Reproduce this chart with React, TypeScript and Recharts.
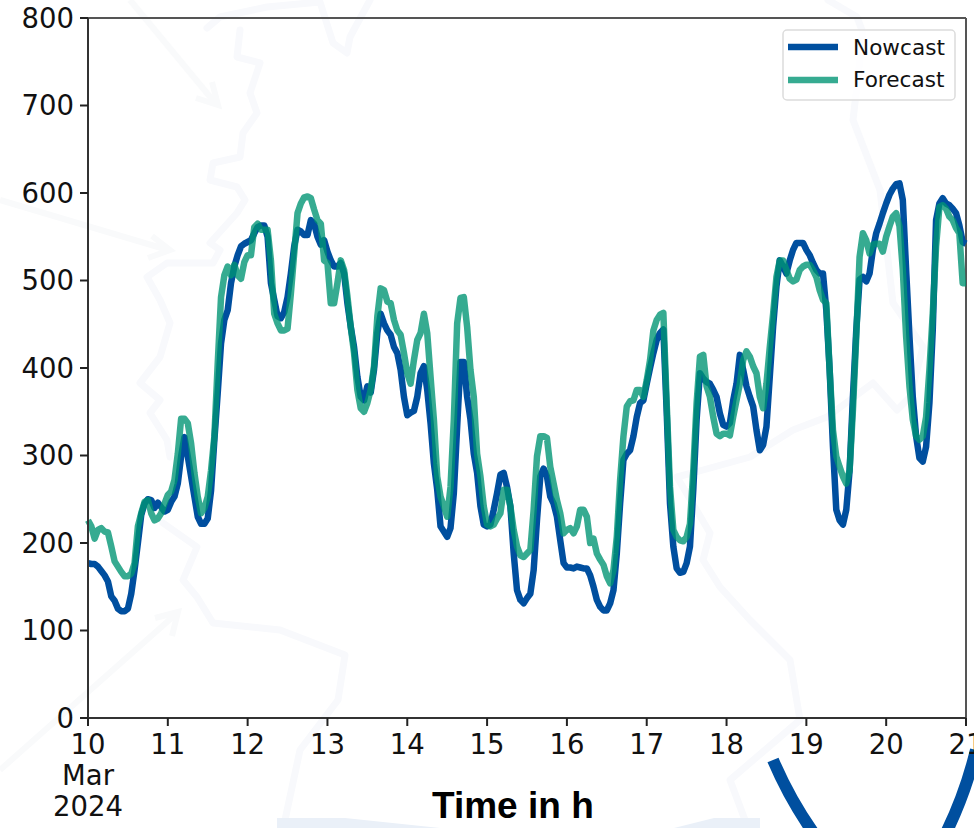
import React from "react";
import { LineChart, Line, XAxis, YAxis, ReferenceLine } from "recharts";

const nowcast = [
177,176,176,173,168,163,156,139,134,125,122,122,125,142,169,200,232,245,250,249,240,246,241,236,238,247,253,268,299,321,299,276,253,230,222,222,228,260,318,371,428,455,466,497,516,529,539,542,544,546,554,561,563,563,550,497,478,459,457,464,481,508,539,558,556,552,552,569,565,550,541,546,533,523,516,516,520,508,474,447,424,390,367,363,379,
372,398,440,462,451,443,438,424,417,398,367,346,349,351,367,394,402,375,337,291,261,219,213,207,217,257,333,407,407,367,341,302,280,242,221,219,221,238,257,278,280,264,242,188,146,135,131,137,142,169,226,276,285,276,253,245,230,203,177,172,172,171,173,172,171,171,163,150,135,127,123,123,131,146,188,245,295,302,306,322,344,360,363,382,400,417,432,440,444,
350,245,196,171,166,167,177,196,261,341,394,388,384,382,375,367,348,335,333,337,363,382,415,398,379,367,356,329,306,312,333,390,447,493,523,516,508,523,535,543,543,543,535,529,520,512,508,508,466,398,310,238,226,221,238,283,367,443,501,504,499,508,535,554,565,577,588,598,605,610,611,592,512,436,367,322,297,293,310,360,443,569,588,594,588,586,582,577,563,544,542,
];
const forecast = [
226,219,205,215,217,213,212,196,179,173,167,162,162,165,177,219,234,247,249,234,226,228,234,245,255,259,272,302,342,342,337,314,280,253,234,240,253,283,322,405,481,506,516,506,518,506,502,521,529,529,561,565,558,558,558,523,462,451,443,443,445,485,531,577,588,595,596,594,581,569,565,523,520,474,474,497,523,512,482,447,417,375,354,350,360,
375,402,459,491,489,476,474,455,443,438,417,394,382,409,432,440,462,440,390,341,276,253,242,230,264,341,451,480,481,447,398,367,302,276,242,221,219,221,228,234,261,261,242,215,196,186,184,188,192,238,299,322,322,320,287,268,249,234,211,215,217,211,219,238,238,230,200,205,188,181,175,162,154,169,207,272,322,356,362,363,375,375,367,386,409,443,455,461,463,
360,264,215,207,203,202,207,222,283,360,413,415,379,367,344,325,322,325,325,323,344,363,382,409,419,413,402,394,367,354,382,424,462,504,523,523,512,502,499,501,512,516,518,518,512,504,489,478,474,398,329,299,287,276,268,283,352,436,527,554,546,531,541,542,542,533,550,562,573,577,562,512,436,379,341,322,318,322,344,398,462,539,584,586,582,573,569,560,554,497,497,
];
const dayLabels = ["10","11","12","13","14","15","16","17","18","19","20","21"];
const yTicks = [0,100,200,300,400,500,600,700,800];
const hoursPerDay = 24;
const rows = nowcast.map((n, i) => ({ hour: i, nowcast: n, forecast: forecast[i] }));
const xTicks = dayLabels.map((_, i) => i * hoursPerDay);

const BLUE = "#004f9f";
const GREEN = "#009574";
const FONT = "'DejaVu Sans', sans-serif";
const WM = "#f8f9fc";

const DayTick = (props: any) => {
  const { x, y, payload } = props;
  const idx = Math.round(payload.value / hoursPerDay);
  return (
    <g fontFamily={FONT} fontSize={27.5} fill="#111" textAnchor="middle">
      <text x={x} y={y + 26}>{dayLabels[idx]}</text>
      {idx === 0 && <text x={x} y={y + 57}>Mar</text>}
      {idx === 0 && <text x={x} y={y + 88}>2024</text>}
    </g>
  );
};

const LegendBox = () => (
  <svg width={174} height={72} style={{ display: "block" }}>
    <rect x={1} y={1} width={172} height={70} rx={4} fill="#fff" fillOpacity={0.8} stroke="#dcdcdc" strokeWidth={1.5} />
    <line x1={6} x2={56} y1={18} y2={18} stroke={BLUE} strokeWidth={6.5} />
    <line x1={6} x2={56} y1={51} y2={51} stroke={GREEN} strokeOpacity={0.79} strokeWidth={6.5} />
    <text x={71} y={26} fontFamily={FONT} fontSize={21.6} fill="#111">Nowcast</text>
    <text x={71} y={58} fontFamily={FONT} fontSize={21.6} fill="#111">Forecast</text>
  </svg>
);

const Watermark = () => (
  <svg width={974} height={828} style={{ position: "absolute", left: 0, top: 0 }}>
    <g fill="none" stroke={WM} strokeWidth={7} strokeLinejoin="round" strokeLinecap="round">
      <polyline points="207,28 220,17 267,7 320,2 333,43 347,53 350,37 370,0" />
      <polyline points="240,30 237,57 260,63 250,93 257,113 243,133 240,157 213,163 210,180 237,187 245,200 237,213 210,243 220,250 213,263 167,263 147,277 160,300 170,323 160,357 140,383 160,400 150,413 167,440 170,457" />
      <polyline points="163,523 197,547 183,580 197,597 213,623 280,630 345,655 338,700 300,750 285,820" />
      <polyline points="880,190 893,303 923,347 910,397 897,410 873,383 827,417 793,430 750,457 703,470 677,477 710,533 703,560 720,587 750,620 790,660 800,720 730,780 745,820" />
      <polyline points="880,190 853,120 863,33 857,17 828,0" />
    </g>
    <g fill="none" stroke="#f9fafb" strokeWidth={6}>
      <polyline points="130,0 216,104" />
      <polyline points="196,98 218,105 212,82" />
      <polyline points="0,200 168,250" />
      <polyline points="148,258 170,250 152,236" />
      <polyline points="0,770 176,614" />
      <polyline points="155,618 178,612 172,636" />
    </g>
    <polygon points="277,818 345,818 440,828 277,828" fill="#eaf0f8" />
    <polygon points="674,828 714,818 760,818 760,828" fill="#eaf0f8" />
    <path d="M773 760 Q790 800 815 835" fill="none" stroke={BLUE} strokeWidth={12} />
    <path d="M976 750 Q965 795 945 835" fill="none" stroke={BLUE} strokeWidth={12} />
  </svg>
);

export default function App() {
  return (
    <div style={{ position: "absolute", left: 0, top: 0, width: 974, height: 828, overflow: "hidden", background: "#fff" }}>
      <Watermark />
      <div style={{ position: "absolute", left: 0, top: 0 }}>
        <LineChart width={974} height={828} data={rows} margin={{ top: 18, right: 8, bottom: 10, left: 0 }}>
          <XAxis
            dataKey="hour"
            type="number"
            domain={[0, 264]}
            ticks={xTicks}
            interval={0}
            height={100}
            tick={<DayTick />}
            tickLine={{ stroke: "#222", strokeWidth: 2 }}
            tickSize={8}
            axisLine={{ stroke: "#333", strokeWidth: 2 }}
          />
          <YAxis
            type="number"
            domain={[0, 800]}
            ticks={yTicks}
            interval={0}
            width={88}
            tickSize={8}
            tickMargin={6}
            tick={{ fontFamily: FONT, fontSize: 27.5, fill: "#111" }}
            tickLine={{ stroke: "#222", strokeWidth: 2 }}
            axisLine={{ stroke: "#333", strokeWidth: 2 }}
          />
          <ReferenceLine y={800} stroke="#555" strokeWidth={2} />
          <ReferenceLine x={264} stroke="#555" strokeWidth={2} />
          <Line dataKey="nowcast" stroke={BLUE} strokeWidth={6.5} dot={false} activeDot={false} isAnimationActive={false} strokeLinejoin="round" />
          <Line dataKey="forecast" stroke={GREEN} strokeOpacity={0.79} strokeWidth={6.5} dot={false} activeDot={false} isAnimationActive={false} strokeLinejoin="round" />
        </LineChart>
      </div>
      <div style={{ position: "absolute", left: 782, top: 29 }}>
        <LegendBox />
      </div>
      <div style={{ position: "absolute", left: 432, top: 785, fontFamily: "'Liberation Sans', sans-serif", fontWeight: 700, fontSize: 37, lineHeight: "42px", color: "#000", whiteSpace: "nowrap" }}>
        Time in h
      </div>
    </div>
  );
}
